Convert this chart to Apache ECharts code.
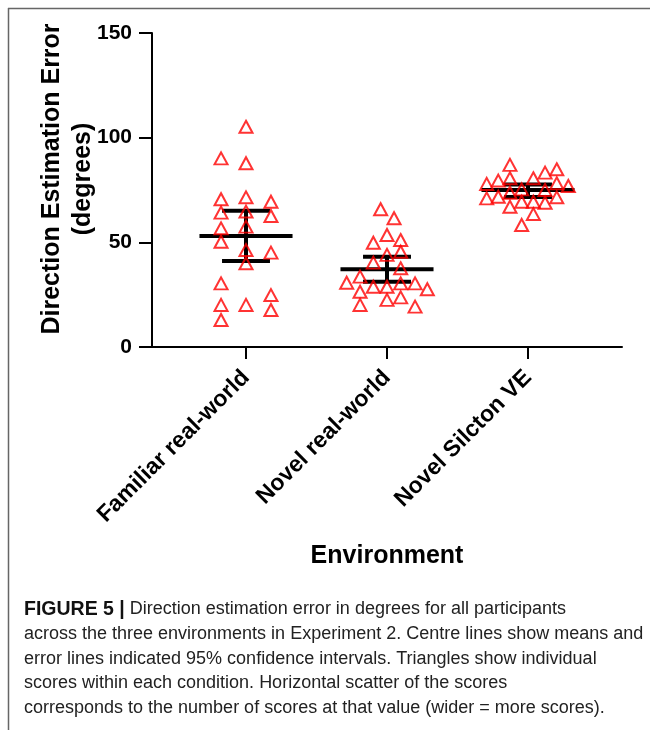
<!DOCTYPE html>
<html>
<head>
<meta charset="utf-8">
<script src="https://cdn.jsdelivr.net/npm/echarts@6/dist/echarts.min.js"></script>
<style>
  html, body { margin: 0; padding: 0; background: #fff; }
  #main { width: 650px; height: 730px; }
</style>
</head>
<body>
<div id="main"></div>
<script>
// groups on the x axis
var categories = ['Familiar real-world', 'Novel real-world', 'Novel Silcton VE'];
var yTicks = [0, 50, 100, 150];

// individual scores (degrees)
var familiarVals = [105.2, 90.1, 87.8, 70.6, 71.5, 69.4, 64.2, 64.7, 62.6, 56.7, 57.5, 50.3, 46.3, 45.1, 40.0, 30.4, 20.1, 20.1, 24.8, 17.7, 12.9];
var novelVals = [65.8, 61.5, 53.5, 49.8, 51.1, 44.0, 45.5, 40.3, 37.6, 33.6, 30.7, 28.8, 28.8, 30.4, 30.4, 27.6, 26.4, 22.5, 23.7, 20.1, 19.3];
var silctonVals = [87.0, 83.3, 84.9, 77.9, 79.5, 80.6, 80.6, 78.2, 76.9, 75.3, 75.0, 71.0, 71.8, 73.7, 71.5, 69.4, 69.4, 68.9, 67.0, 63.5, 58.3];

// horizontal scatter of each score (category units)
var familiarJit = [0, -0.177, 0, -0.177, 0, 0.177, -0.177, 0, 0.177, -0.177, 0, -0.177, 0, 0.177, 0, -0.177, -0.177, 0, 0.177, 0.177, -0.177];
var novelJit = [-0.045, 0.050, 0, -0.097, 0.097, 0, 0.097, -0.097, 0.097, -0.191, -0.286, -0.097, 0, 0.097, 0.199, 0.286, -0.191, 0, 0.097, -0.191, 0.199];
var silctonJit = [-0.128, 0.121, 0.204, -0.293, -0.211, -0.128, 0.038, 0.204, 0.286, -0.045, 0.121, -0.293, -0.211, -0.128, 0.204, -0.045, 0.038, 0.121, -0.128, 0.038, -0.045];

// means and 95% CI
var means = [53.0, 37.1, 75.0];
var ciLow = [41.1, 31.2, 71.6];
var ciHigh = [65.1, 43.1, 77.6];

var captionLines = [
  'Direction estimation error in degrees for all participants',
  'across the three environments in Experiment 2. Centre lines show means and',
  'error lines indicated 95% confidence intervals. Triangles show individual',
  'scores within each condition. Horizontal scatter of the scores',
  'corresponds to the number of scores at that value (wider = more scores).'
];

var myChart = echarts.init(document.getElementById('main'));

var groups = [familiarVals, novelVals, silctonVals];
var jits = [familiarJit, novelJit, silctonJit];
var points = [];
for (var g = 0; g < groups.length; g++) {
  for (var i = 0; i < groups[g].length; i++) {
    points.push([g + 1 + jits[g][i], groups[g][i]]);
  }
}
var barData = [];
for (var k = 0; k < means.length; k++) {
  barData.push([k + 1, means[k], ciLow[k], ciHigh[k]]);
}

var font = '"Liberation Sans", Arial, Helvetica, sans-serif';

option = {
  backgroundColor: '#fff',
  animation: false,
  grid: { left: 152, right: 28, top: 33, bottom: 383 },
  xAxis: {
    type: 'value',
    min: 1 / 3,
    max: 11 / 3,
    name: 'Environment',
    nameLocation: 'middle',
    nameGap: 197,
    nameMoveOverlap: false,
    nameTextStyle: { color: '#000', fontSize: 25, fontWeight: 'bold', fontFamily: font },
    splitLine: { show: false },
    axisLine: { show: true, onZero: false, lineStyle: { color: '#000', width: 2 } },
    axisTick: { show: true, customValues: [1, 2, 3], length: 12, lineStyle: { color: '#000', width: 2 } },
    axisLabel: {
      customValues: [1, 2, 3],
      rotate: 45,
      margin: 27,
      color: '#000',
      fontSize: 23,
      fontWeight: 'bold',
      fontFamily: font,
      formatter: function (v) { return categories[Math.round(v) - 1] || ''; }
    }
  },
  yAxis: {
    type: 'value',
    min: yTicks[0],
    max: yTicks[yTicks.length - 1],
    interval: 50,
    name: 'Direction Estimation Error\n(degrees)',
    nameLocation: 'middle',
    nameRotate: 90,
    nameGap: 53,
    nameMoveOverlap: false,
    nameTextStyle: { color: '#000', fontSize: 25, fontWeight: 'bold', fontFamily: font, lineHeight: 31, padding: [0, 0, 0, 22] },
    splitLine: { show: false },
    axisLine: { show: true, lineStyle: { color: '#000', width: 2 } },
    axisTick: { show: true, length: 13, lineStyle: { color: '#000', width: 2 } },
    axisLabel: { color: '#000', fontSize: 21, fontWeight: 'bold', fontFamily: font, margin: 20 }
  },
  graphic: [
    { type: 'line', shape: { x1: 8, y1: 8.5, x2: 650, y2: 8.5 }, style: { stroke: '#666', lineWidth: 1.5 } },
    { type: 'line', shape: { x1: 8.5, y1: 8, x2: 8.5, y2: 730 }, style: { stroke: '#666', lineWidth: 1.5 } },
    {
      type: 'text',
      left: 24,
      top: 597,
      style: {
        text: '{b|FIGURE 5 |} ' + captionLines.join('\n'),
        rich: {
          b: { fontWeight: 'bold', fontSize: 19.5, fontFamily: font, fill: '#111', lineHeight: 24.7 }
        },
        fontSize: 18,
        lineHeight: 24.7,
        fontFamily: font,
        fill: '#222'
      }
    }
  ],
  series: [
    {
      name: 'CI',
      type: 'custom',
      z: 1,
      data: barData,
      renderItem: function (params, api) {
        var x = api.value(0);
        var m = api.value(1), lo = api.value(2), hi = api.value(3);
        var a = api.coord([x - 0.33, m]), b = api.coord([x + 0.33, m]);
        var c1 = api.coord([x - 0.17, hi]), c2 = api.coord([x + 0.17, hi]);
        var d1 = api.coord([x - 0.17, lo]), d2 = api.coord([x + 0.17, lo]);
        var v1 = api.coord([x, hi]), v2 = api.coord([x, lo]);
        var st = { stroke: '#000', lineWidth: 4 };
        return {
          type: 'group',
          children: [
            { type: 'line', shape: { x1: a[0], y1: a[1], x2: b[0], y2: b[1] }, style: st },
            { type: 'line', shape: { x1: c1[0], y1: c1[1], x2: c2[0], y2: c2[1] }, style: st },
            { type: 'line', shape: { x1: d1[0], y1: d1[1], x2: d2[0], y2: d2[1] }, style: st },
            { type: 'line', shape: { x1: v1[0], y1: v1[1], x2: v2[0], y2: v2[1] }, style: st }
          ]
        };
      }
    },
    {
      name: 'Scores',
      type: 'scatter',
      z: 2,
      symbol: 'triangle',
      symbolSize: [13, 12],
      data: points,
      itemStyle: { color: 'rgba(255,255,255,0)', borderColor: '#ff0000', borderWidth: 2 }
    }
  ]
};
myChart.setOption(option);
</script>
</body>
</html>
